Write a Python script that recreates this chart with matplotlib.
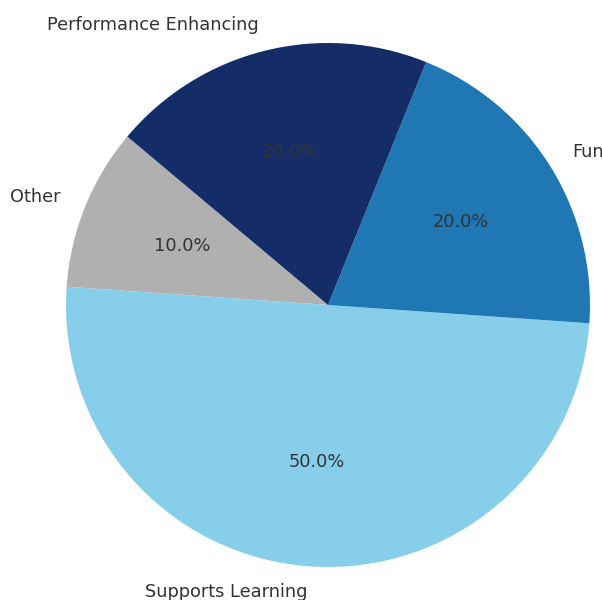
import matplotlib
matplotlib.use("Agg")
import matplotlib.pyplot as plt

labels = ["Other", "Supports Learning", "Fun", "Performance Enhancing"]
shares = [10, 50, 20, 20]
colors = ["#b0b0b0", "#87ceeb", "#1f77b4", "#142d69"]

fig = plt.figure(figsize=(6.02, 6.0), dpi=100)
ax = fig.add_axes([66 / 602, 33 / 600, 524 / 602, 524 / 600])

wedges, texts, autotexts = ax.pie(shares, labels=labels, colors=colors,
                                  autopct="%1.1f%%", startangle=140,
                                  textprops={"fontsize": 12.8, "color": "#333333"})
ax.set_xlim(-1, 1)
ax.set_ylim(-1, 1)
ax.axis("off")

fig.savefig("out.png", dpi=100)
